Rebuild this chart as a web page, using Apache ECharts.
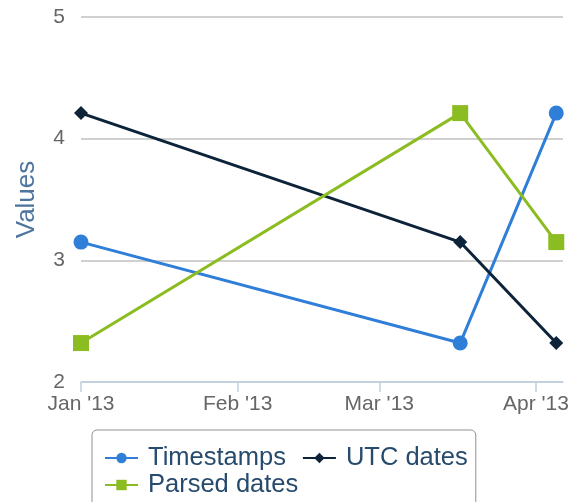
<!DOCTYPE html>
<html>
<head>
<meta charset="utf-8">
<script src="https://cdn.jsdelivr.net/npm/echarts@6/dist/echarts.min.js"></script>
<style>
  html, body { margin: 0; padding: 0; background: #fff; }
</style>
</head>
<body>
<div id="chart" style="width:578px;height:502px;"></div>
<script>
// point dates (UTC) and values per series
var dates = ["2013-01-01", "2013-03-17", "2013-04-05"];
var timestamps = [3.15, 2.32, 4.21];
var utcDates = [4.21, 3.15, 2.32];
var parsedDates = [2.32, 4.21, 3.15];

// x axis tick labels (month starts)
var monthTicks = ["2013-01-01", "2013-02-01", "2013-03-01", "2013-04-01"];
var monthNames = ["Jan", "Feb", "Mar", "Apr", "May", "Jun", "Jul", "Aug", "Sep", "Oct", "Nov", "Dec"];

var yTicks = [2, 3, 4, 5];

function ts(s) {
  return new Date(s + "T00:00:00Z").getTime();
}
function pairs(vals) {
  return dates.map(function (d, i) { return [ts(d), vals[i]]; });
}

var font = "'Liberation Sans', Arial, Helvetica, sans-serif";
var legendText = {
  fontFamily: font,
  fontSize: 25.5,
  color: "#274b6d",
  padding: [0, 0, 0, 5]
};
var chart = echarts.init(document.getElementById("chart"));

chart.setOption({
  animation: false,
  color: ["#2f7ed8", "#0d233a", "#8bbc21"],
  grid: { left: 81, right: 15, top: 17, bottom: 120 },
  // two legends: first row carries the box, second row sits inside it
  legend: [
    {
      left: 92,
      top: 430,
      padding: [15, 8, 36, 12],
      itemGap: 16,
      itemWidth: 33,
      itemHeight: 13,
      borderColor: "#909090",
      borderWidth: 1,
      borderRadius: 5,
      textStyle: legendText,
      data: ["Timestamps", "UTC dates"]
    },
    {
      left: 92,
      top: 472,
      padding: [0, 0, 0, 12],
      itemWidth: 33,
      itemHeight: 13,
      textStyle: legendText,
      data: ["Parsed dates"]
    }
  ],
  xAxis: {
    type: "value",
    min: ts("2013-01-01"),
    max: ts("2013-04-06") + 8 * 3600 * 1000,
    splitLine: { show: false },
    axisLine: { show: true, lineStyle: { color: "#C0D0E0", width: 1.5 } },
    axisTick: {
      show: true,
      length: 10,
      lineStyle: { color: "#C0D0E0", width: 1.5 },
      customValues: monthTicks.map(ts)
    },
    axisLabel: {
      customValues: monthTicks.map(ts),
      margin: 12,
      color: "#666666",
      fontFamily: font,
      fontSize: 21,
      formatter: function (v) {
        var d = new Date(v);
        return monthNames[d.getUTCMonth()] + " '" + String(d.getUTCFullYear()).slice(2);
      }
    }
  },
  yAxis: {
    type: "value",
    min: yTicks[0],
    max: yTicks[yTicks.length - 1],
    interval: 1,
    name: "Values",
    nameLocation: "middle",
    nameRotate: 90,
    nameGap: 41,
    nameTextStyle: { color: "#4d759e", fontFamily: font, fontSize: 26 },
    axisLine: { show: false },
    axisTick: { show: false },
    splitLine: { lineStyle: { color: "#C0C0C0", width: 1.5 } },
    axisLabel: { color: "#666666", fontFamily: font, fontSize: 21, margin: 16 }
  },
  series: [
    {
      name: "Timestamps",
      type: "line",
      symbol: "circle",
      symbolSize: 15,
      lineStyle: { width: 3 },
      data: pairs(timestamps)
    },
    {
      name: "UTC dates",
      type: "line",
      symbol: "diamond",
      symbolSize: [14, 14],
      lineStyle: { width: 3 },
      data: pairs(utcDates)
    },
    {
      name: "Parsed dates",
      type: "line",
      symbol: "rect",
      symbolSize: 16,
      lineStyle: { width: 3 },
      data: pairs(parsedDates)
    }
  ]
});
</script>
</body>
</html>
